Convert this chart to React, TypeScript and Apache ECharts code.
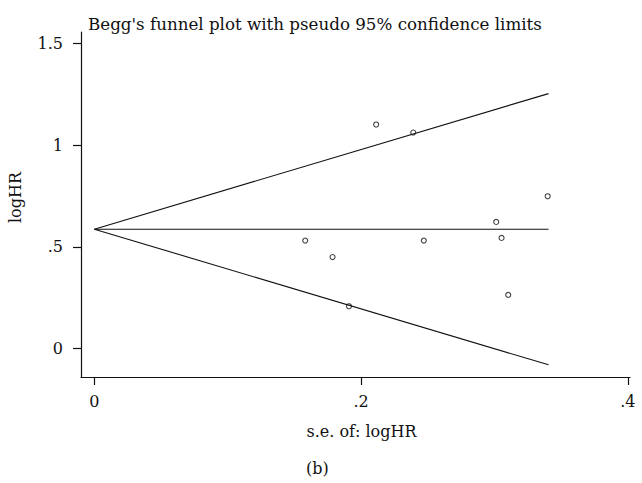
import React, { useEffect, useRef } from "react";
import * as echarts from "echarts";

const studySE = [0.2113, 0.2391, 0.3399, 0.3013, 0.1581, 0.247, 0.3053, 0.1786, 0.1909, 0.3103];
const studyLogHR = [1.102, 1.0625, 0.749, 0.6227, 0.531, 0.531, 0.544, 0.45, 0.208, 0.2637];
const pooledLogHR = 0.587;
const maxSE = 0.3405;
const upperLimitEnd = 1.254;
const lowerLimitEnd = -0.08;
const xTicks = [0, 0.2, 0.4];
const xTickLabels = ["0", ".2", ".4"];
const yTicks = [0, 0.5, 1, 1.5];
const yTickLabels = ["0", ".5", "1", "1.5"];

const FONT = "DejaVu Serif";
const FS = 16;
const INK = "#111111";

export default function App() {
  const ref = useRef<HTMLDivElement>(null);
  useEffect(() => {
    if (!ref.current) return;
    const chart = echarts.init(ref.current, null, { renderer: "svg" });
    const points = studySE.map((s, i) => [s, studyLogHR[i]]);
    const lineStyle = { color: INK, width: 1.1 };
    chart.setOption({
      animation: false,
      backgroundColor: "#ffffff",
      title: {
        text: "Begg's funnel plot with pseudo 95% confidence limits",
        left: 83,
        top: 10,
        textStyle: { fontFamily: FONT, fontSize: 16.7, fontWeight: "normal", color: INK },
      },
      grid: { left: 81, right: 12, top: 32, bottom: 106, containLabel: false, outerBoundsMode: "none" },
      xAxis: {
        type: "value",
        min: -0.01,
        max: 0.4016,
        name: "s.e. of: logHR",
        nameLocation: "middle",
        nameGap: 46,
        nameTextStyle: { fontFamily: FONT, fontSize: FS, color: INK, padding: [0, 0, 0, 12] },
        axisLine: { show: true, onZero: false, lineStyle: { color: INK, width: 1.2 } },
        axisTick: { show: true, length: 8, customValues: xTicks, lineStyle: { color: INK, width: 1.2 } },
        axisLabel: {
          customValues: xTicks,
          margin: 16,
          fontFamily: FONT,
          fontSize: FS,
          color: INK,
          formatter: (v: number) => xTickLabels[xTicks.findIndex((t) => Math.abs(t - v) < 1e-9)] ?? "",
        },
        splitLine: { show: false },
      },
      yAxis: {
        type: "value",
        min: -0.14,
        max: 1.557,
        name: "logHR",
        nameLocation: "middle",
        nameRotate: 90,
        nameGap: 58,
        nameTextStyle: { fontFamily: FONT, fontSize: FS, color: INK, padding: [0, 0, 0, 14] },
        axisLine: { show: true, onZero: false, lineStyle: { color: INK, width: 1.2 } },
        axisTick: { show: true, length: 8, customValues: yTicks, lineStyle: { color: INK, width: 1.2 } },
        axisLabel: {
          customValues: yTicks,
          margin: 18,
          fontFamily: FONT,
          fontSize: FS,
          color: INK,
          formatter: (v: number) => yTickLabels[yTicks.findIndex((t) => Math.abs(t - v) < 1e-9)] ?? "",
        },
        splitLine: { show: false },
      },
      graphic: [
        {
          type: "text",
          left: 306,
          top: 460,
          style: { text: "(b)", fontFamily: FONT, fontSize: FS, fill: INK },
        },
      ],
      series: [
        {
          type: "line",
          data: [[0, pooledLogHR], [maxSE, upperLimitEnd]],
          showSymbol: false,
          lineStyle,
        },
        {
          type: "line",
          data: [[0, pooledLogHR], [maxSE, pooledLogHR]],
          showSymbol: false,
          lineStyle,
        },
        {
          type: "line",
          data: [[0, pooledLogHR], [maxSE, lowerLimitEnd]],
          showSymbol: false,
          lineStyle,
        },
        {
          type: "scatter",
          data: points,
          symbol: "circle",
          symbolSize: 5,
          itemStyle: { color: "#ffffff", borderColor: INK, borderWidth: 1.1 },
        },
      ],
    });
    return () => chart.dispose();
  }, []);
  return (
    <div
      ref={ref}
      style={{ position: "fixed", left: 0, top: 0, width: 642, height: 483, background: "#fff" }}
    />
  );
}
